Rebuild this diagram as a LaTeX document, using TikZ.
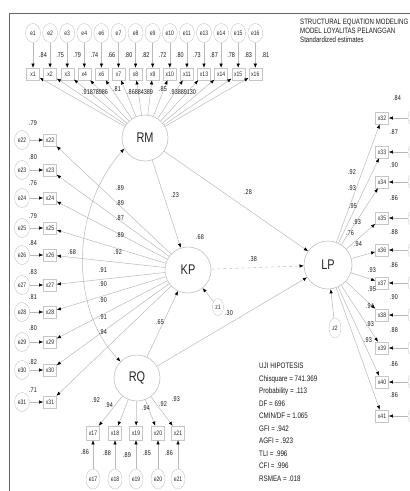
\documentclass[tikz,border=0pt]{standalone}
\usepackage{fontspec}
\setmainfont{Liberation Sans}
\newfontfamily\nf[FakeStretch=0.78]{Liberation Sans}
\usetikzlibrary{shapes.geometric,arrows.meta}
\begin{document}
\begin{tikzpicture}[x=1pt,y=-1pt,
  lat/.style={circle,draw=gray!50,line width=0.6pt,minimum size=46pt,inner sep=0pt,text=black!85,font=\nf\fontsize{14}{15}\selectfont},
  obs/.style={rectangle,draw=gray!45,minimum width=13pt,minimum height=12pt,inner sep=0pt,text=black!85,font=\nf\fontsize{6.5}{7}\selectfont},
  err/.style={ellipse,draw=gray!45,minimum width=15pt,minimum height=19pt,inner sep=0pt,text=black!85,font=\nf\fontsize{6.5}{7}\selectfont},
  lbl/.style={inner sep=0pt,text=black!90,font=\nf\fontsize{7}{8}\selectfont},
  pth/.style={draw=gray!55,line width=0.5pt,-{Latex[length=4.2pt,width=3.4pt,color=black]}},
  cov/.style={draw=gray!55,line width=0.5pt,{Latex[length=4.2pt,width=3.4pt,color=black]}-{Latex[length=4.2pt,width=3.4pt,color=black]}},
]
\useasboundingbox (0,0) rectangle (410,491);
\clip (0,0) rectangle (410,491);
\draw[black!60,line width=0.8pt] (9,491) -- (9,13) -- (410,13);

% latent variables
\node[lat] (RM) at (145,138) {RM};
\node[lat] (KP) at (188,270) {KP};
\node[lat,minimum size=48pt] (LP) at (328,265) {LP};
\node[lat] (RQ) at (137,378) {RQ};
\node[err,minimum width=11pt,minimum height=17pt] (z1) at (218,307) {z1};
\node[err,minimum width=12pt,minimum height=20pt] (z2) at (335,328) {z2};

% structural paths
\draw[pth] (RM) -- (KP);
\draw[pth] (RM) -- (LP);
\draw[pth,dashed] (KP) -- (LP);
\draw[pth] (RQ) -- (KP);
\draw[pth] (RQ) -- (LP);
\draw[pth] (z1) -- (KP);
\draw[pth] (z2) -- (LP);
\draw[cov] (RM.207) .. controls (70,210) and (70,310) .. (RQ.135);

\node[lbl] (l23) at (175,195) {.23};
\node[lbl] (l28) at (248,192) {.28};
\node[lbl] (l38) at (253,259) {.38};
\node[lbl] (l65) at (160,322) {.65};
\node[lbl] (l68) at (200,237) {.68};
\node[lbl] (l30) at (229,313) {.30};
\node[lbl] (l76) at (350,233) {.76};

% top indicators (RM)
\foreach \n [count=\i from 0] in {1,2,3,4,6,7,8,9,10,11,13,14,15,16} {
  \pgfmathsetmacro\xx{33+17.1*\i}
  \node[err] (e\n) at (\xx,33) {e\n};
  \node[obs] (x\n) at (\xx,74) {x\n};
  \draw[pth] (e\n) -- (x\n);
  \draw[pth] (RM) -- (x\n);
}
\foreach \t [count=\i from 0] in {.84,.75,.79,.74,.66,.80,.82,.72,.80,.73,.87,.78,.83,.81}
  \node[lbl] (lt\i) at ({43+17.1*\i},55) {\t};
\node[lbl,anchor=west] (lb1) at (82,92) {.91878986};
\node[lbl,anchor=west] (lb2) at (113,89) {.81};
\node[lbl,anchor=west] (lb3) at (127,92) {.86884389};
\node[lbl,anchor=west] (lb4) at (159,89) {.85};
\node[lbl,anchor=west] (lb5) at (170,92) {.93889130};

% left indicators (KP)
\foreach \n/\yy in {22/140,23/170,24/198,25/228,26/255,27/285,28/312,29/342,30/370,31/402} {
  \node[err] (e\n) at (22,\yy) {e\n};
  \node[obs] (x\n) at (50,\yy) {x\n};
  \draw[pth] (e\n) -- (x\n);
  \draw[pth] (KP) -- (x\n);
}
\foreach \xx/\yy/\t [count=\i] in {120/188/.89,120/203/.89,120/218/.87,120/235/.89,118/252/.92,103/270/.91,103/284/.90,103/300/.90,103/317/.91,103/332/.94,
  33/123/.79,33/157/.80,33/183/.76,33/216/.79,33/243/.84,33/272/.83,33/297/.81,33/328/.80,33/362/.82,33/390/.71,72/252/.68}
  \node[lbl] (ll\i) at (\xx,\yy) {\t};

% bottom indicators (RQ)
\foreach \n/\xx in {17/93,18/115,19/136,20/158,21/178} {
  \node[obs,minimum height=14pt] (x\n) at (\xx,433) {x\n};
  \node[err,minimum width=14pt,minimum height=20pt] (e\n) at (\xx,479) {e\n};
  \draw[pth] (e\n) -- (x\n);
  \draw[pth] (RQ) -- (x\n);
}
\foreach \xx/\yy/\t [count=\i] in {96/400/.92,109/405/.94,146/408/.94,163/404/.92,176/399/.93,
  85/452/.86,107/453/.88,127/455/.89,147/453/.85,169/453/.86}
  \node[lbl] (lq\i) at (\xx,\yy) {\t};

% right indicators (LP)
\foreach \n/\yy in {32/118,33/152,34/182,35/218,36/250,37/283,38/315,39/348,40/382,41/416} {
  \node[obs] (x\n) at (382,\yy) {x\n};
  \node[err,minimum width=16pt,minimum height=20pt] (e\n) at (416,\yy) {e\n};
  \draw[pth] (e\n) -- (x\n);
  \draw[pth] (LP) -- (x\n);
}
\foreach \xx/\yy/\t [count=\i] in {352/172/.92,352/188/.93,353/206/.95,357/222/.93,358/244/.94,372/270/.93,372/289/.95,370/306/.94,370/324/.93,368/340/.93,
  397/98/.84,394/132/.87,394/165/.90,394/198/.86,394/232/.88,394/265/.86,394/297/.90,394/330/.88,394/364/.86,394/395/.86}
  \node[lbl] (lr\i) at (\xx,\yy) {\t};

% title
\node[anchor=north west,inner sep=0pt,align=left,text=black!90,font=\nf\fontsize{7.8}{8.8}\selectfont] (title) at (300,19)
  {STRUCTURAL EQUATION MODELING\\MODEL LOYALITAS PELANGGAN\\Standardized estimates};

% fit statistics
\node[anchor=north west,inner sep=0pt,align=left,text=black!90,font=\nf\fontsize{8}{12.5}\selectfont] (fit) at (259,363)
  {UJI HIPOTESIS\\Chisquare = 741.369\\Probability = .113\\DF = 696\\CMIN/DF = 1.065\\GFI = .942\\AGFI = .923\\TLI = .996\\CFI = .996\\RSMEA = .018};
\end{tikzpicture}
\end{document}
